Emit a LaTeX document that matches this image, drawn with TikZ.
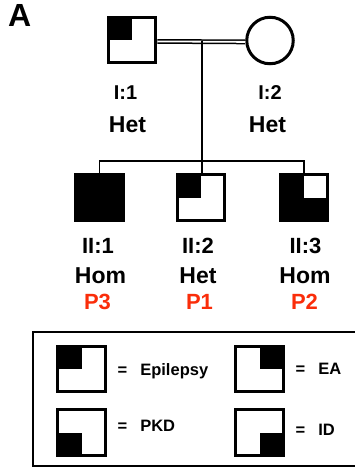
\documentclass[tikz,border=0pt]{standalone}
\usepackage{fontspec}
\setmainfont{Liberation Sans}
\definecolor{pid}{RGB}{250,45,10}
\begin{document}
\begin{tikzpicture}[x=1pt,y=-1pt,
  indiv/.style={draw, line width=3.4pt, minimum width=47.5pt, minimum height=45.5pt, inner sep=0pt},
  female/.style={draw, circle, line width=3pt, minimum size=46.5pt, inner sep=0pt},
  nw/.style={path picture={\fill (path picture bounding box.north west) rectangle (path picture bounding box.center);}},
  ne/.style={path picture={\fill (path picture bounding box.north east) rectangle (path picture bounding box.center);}},
  sw/.style={path picture={\fill (path picture bounding box.south west) rectangle (path picture bounding box.center);}},
  se/.style={path picture={\fill (path picture bounding box.south east) rectangle (path picture bounding box.center);}},
  allbut/.style={fill=black, path picture={\fill[white] (path picture bounding box.north east) rectangle (path picture bounding box.center);}},
  link/.style={line width=1.5pt},
  idlab/.style={font=\bfseries\fontsize{20}{20}\selectfont, anchor=base, inner sep=0pt},
  idlabb/.style={font=\bfseries\fontsize{22}{22}\selectfont, anchor=base, inner sep=0pt},
  geno/.style={font=\bfseries\fontsize{23}{23}\selectfont, anchor=base, inner sep=0pt},
  pat/.style={font=\bfseries\fontsize{22}{22}\selectfont, anchor=base, inner sep=0pt, text=pid},
  key/.style={font=\bfseries\fontsize{16.5}{16.5}\selectfont, anchor=base west, inner sep=0pt}]
\useasboundingbox (0,0) rectangle (355,471);

% panel letter
\node[font=\bfseries\fontsize{32}{32}\selectfont, anchor=base west, inner sep=0pt] (panel) at (8,27) {A};

% generation I
\node[indiv, nw] (I1) at (132,40) {};
\node[female] (I2) at (270,40.5) {};
\draw[line width=1.5pt, double, double distance=1.8pt]
  ([yshift=-1.4pt]I1.east) -- ([yshift=-1.4pt]I2.west);
\coordinate (m) at (202,41.4);

% generation II
\node[indiv, fill=black] (II1) at (99.5,197.5) {};
\node[indiv, nw] (II2) at (201,197.5) {};
\node[indiv, allbut] (II3) at (304,197.5) {};

% line of descent and sibship line
\coordinate (s) at (202,161);
\draw[link] (m) -- (m |- II2.north);
\draw[link] (II1.north) -- (II1.north |- s) -- (II3.north |- s) -- (II3.north);

% labels
\node[idlab] (I1id) at (125.5,99) {I:1};
\node[geno] (I1g) at (127.5,132.5) {Het};
\node[idlab] (I2id) at (270,99) {I:2};
\node[geno] (I2g) at (267.5,132.5) {Het};

\node[idlabb] (II1id) at (98,253) {II:1};
\node[geno] (II1g) at (100.5,283) {Hom};
\node[pat] (II1p) at (97.5,309) {P3};
\node[idlabb] (II2id) at (198,253) {II:2};
\node[geno] (II2g) at (198,283) {Het};
\node[pat] (II2p) at (199.5,309) {P1};
\node[idlabb] (II3id) at (305.5,253) {II:3};
\node[geno] (II3g) at (305,283) {Hom};
\node[pat] (II3p) at (304.5,309) {P2};

% legend
\draw[line width=1.8pt] (33,332) rectangle (358,466);
\node[indiv, nw] (kEpi) at (81.5,369) {};
\node[indiv, ne] (kEA) at (259.5,369) {};
\node[indiv, sw] (kPKD) at (81.5,432.5) {};
\node[indiv, se] (kID) at (259.5,432.5) {};
\node[key] (tEpi) at (117.5,375) {=\hspace{13pt}Epilepsy};
\node[key] (tEA) at (295.5,374) {=\hspace{13pt}EA};
\node[key] (tPKD) at (117.5,431) {=\hspace{13pt}PKD};
\node[key] (tID) at (295.5,435) {=\hspace{13pt}ID};
\end{tikzpicture}
\end{document}
